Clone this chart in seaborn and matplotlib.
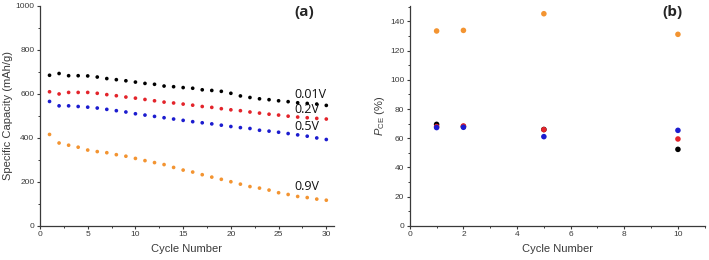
import matplotlib
matplotlib.use("Agg")
import matplotlib.pyplot as plt
import numpy as np
import pandas as pd
import seaborn as sns
from matplotlib.ticker import AutoMinorLocator, MultipleLocator

# panel (a): specific capacity per cycle at each cut-off voltage
cycles = list(range(1, 31))
cap_001 = [685, 693, 683, 683, 682, 677, 670, 665, 660, 654,
           648, 644, 636, 633, 629, 626, 619, 616, 612, 603,
           591, 584, 578, 574, 569, 565, 560, 557, 554, 548]
cap_02 = [610, 600, 607, 607, 607, 603, 597, 592, 586, 581,
          575, 569, 563, 559, 554, 549, 543, 539, 533, 528,
          524, 518, 513, 508, 504, 499, 495, 492, 489, 486]
cap_05 = [566, 546, 546, 543, 540, 536, 530, 524, 518, 510,
          504, 498, 492, 486, 480, 474, 469, 464, 458, 452,
          447, 443, 435, 431, 426, 420, 414, 408, 400, 393]
cap_09 = [416, 377, 367, 358, 345, 338, 333, 324, 317, 307,
          297, 288, 279, 266, 254, 245, 233, 222, 212, 201,
          190, 179, 172, 163, 151, 143, 134, 129, 122, 117]

# panel (b): P_CE at selected cycles
pce_cycles = [1, 2, 5, 10]
pce_009 = [133.4, 133.8, 145.2, 131.1]
pce_001 = [69.5, 68.0, 66.0, 52.4]
pce_02 = [68.0, 68.4, 65.9, 59.5]
pce_05 = [67.3, 67.5, 61.1, 65.4]

labels = ["0.01V", "0.2V", "0.5V", "0.9V"]
colors = {"0.01V": "#000000", "0.2V": "#e3242b", "0.5V": "#1c1ccf", "0.9V": "#f39431"}

cap = pd.DataFrame({
    "cycle": cycles * 4,
    "capacity": cap_001 + cap_02 + cap_05 + cap_09,
    "voltage": [v for v in labels for _ in cycles],
})
order_b = ["0.9V", "0.01V", "0.2V", "0.5V"]
pce = pd.DataFrame({
    "cycle": pce_cycles * 4,
    "pce": pce_009 + pce_001 + pce_02 + pce_05,
    "voltage": [v for v in order_b for _ in pce_cycles],
})

sns.set_style("ticks")
plt.rcParams["font.family"] = ["Liberation Sans", "DejaVu Sans"]
plt.rcParams["mathtext.fontset"] = "custom"
plt.rcParams["mathtext.it"] = "Liberation Sans:italic"
plt.rcParams["mathtext.rm"] = "Liberation Sans"

axis_col = "#3a3a3a"
fig = plt.figure(figsize=(7.09, 2.6), dpi=100)
ax1 = fig.add_axes([0.0564, 0.131, 0.4146, 0.846])
ax2 = fig.add_axes([0.578, 0.131, 0.416, 0.846])

sns.scatterplot(data=cap, x="cycle", y="capacity", hue="voltage", palette=colors,
                s=7, linewidth=0, legend=False, ax=ax1)
sns.scatterplot(data=pce, x="cycle", y="pce", hue="voltage", palette=colors,
                hue_order=order_b, s=16, linewidth=0, legend=False, ax=ax2)

ax1.set_xlim(0, 30.8)
ax1.set_ylim(0, 1000)
ax1.xaxis.set_major_locator(MultipleLocator(5))
ax1.yaxis.set_major_locator(MultipleLocator(200))
ax1.set_xlabel("Cycle Number", fontsize=8, color=axis_col)
ax1.set_ylabel("Specific Capacity (mAh/g)", fontsize=8, color=axis_col, labelpad=2)

ax2.set_xlim(0, 11)
ax2.set_ylim(0, 150.5)
ax2.xaxis.set_major_locator(MultipleLocator(2))
ax2.yaxis.set_major_locator(MultipleLocator(20))
ax2.set_xlabel("Cycle Number", fontsize=8, color=axis_col)
ax2.set_ylabel(r"$P_{\mathrm{CE}}$ (%)", fontsize=8, color=axis_col, labelpad=2)

for ax in (ax1, ax2):
    sns.despine(ax=ax)
    ax.xaxis.set_minor_locator(AutoMinorLocator(2))
    ax.yaxis.set_minor_locator(AutoMinorLocator(2))
    ax.tick_params(which="major", length=2.5, width=0.8, labelsize=6,
                   colors=axis_col, pad=1.5)
    ax.tick_params(which="minor", length=1.5, width=0.7, colors=axis_col)
    for sp in ("left", "bottom"):
        ax.spines[sp].set_color(axis_col)
        ax.spines[sp].set_linewidth(0.9)

# curve labels
label_y = {"0.01V": 597, "0.2V": 528, "0.5V": 452, "0.9V": 178}
for lab in labels:
    ax1.text(26.7, label_y[lab], lab, fontsize=9, family=["Open Sans", "DejaVu Sans"],
             va="center", ha="left", color="#111111")

ax1.text(0.898, 0.972, "(a)", transform=ax1.transAxes, fontsize=11, fontweight="bold",
         family=["Open Sans", "DejaVu Sans"], ha="center", va="center")
ax2.text(0.892, 0.972, "(b)", transform=ax2.transAxes, fontsize=11, fontweight="bold",
         family=["Open Sans", "DejaVu Sans"], ha="center", va="center")

fig.savefig("out.png", dpi=100)
plt.close(fig)
